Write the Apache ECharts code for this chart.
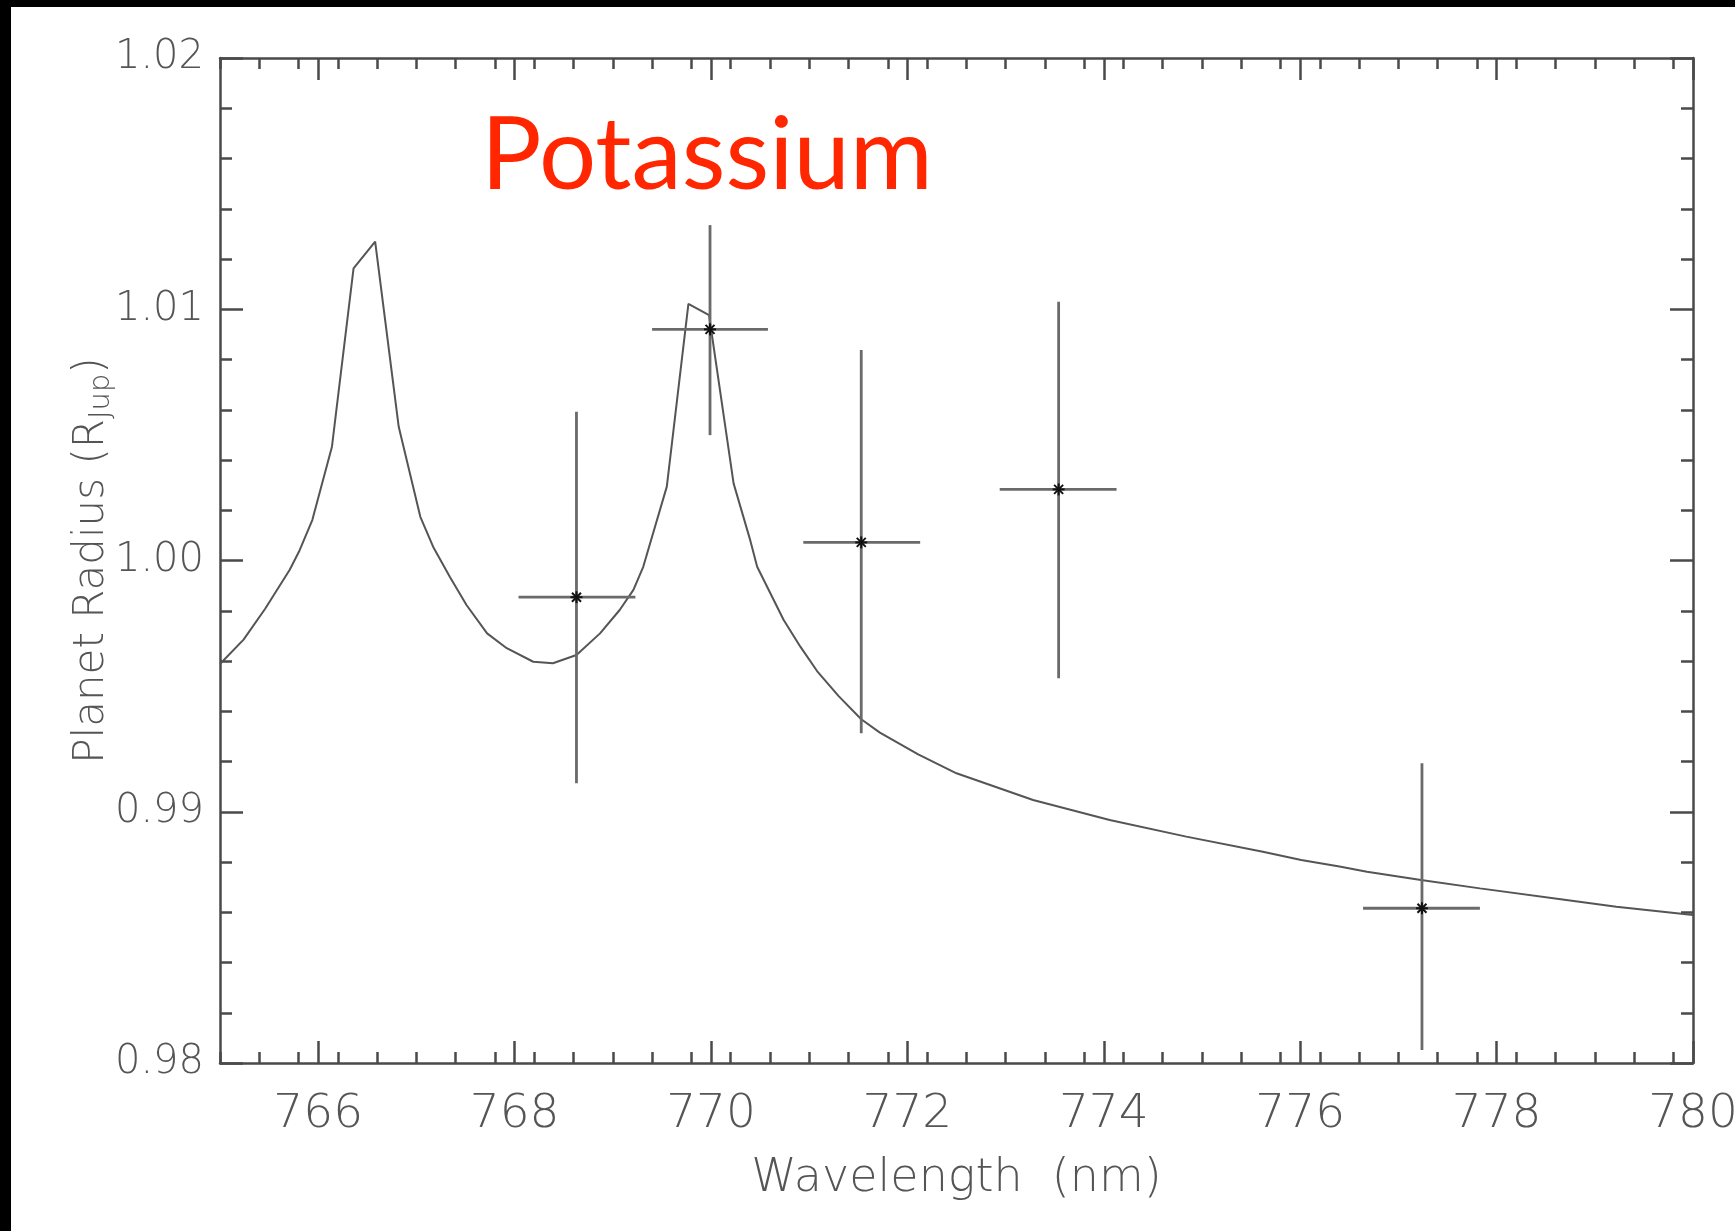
<!DOCTYPE html>
<html>
<head>
<meta charset="utf-8">
<script src="https://cdn.jsdelivr.net/npm/echarts@6/dist/echarts.min.js"></script>
<style>
html,body{margin:0;padding:0;background:#fff;}
#chart{width:1735px;height:1231px;}
</style>
</head>
<body>
<div id="chart"></div>
<script>
// Model transmission spectrum (wavelength nm, planet radius R_Jup)
const modelWl = [765.00, 765.24, 765.46, 765.71, 765.81, 765.94, 766.14, 766.36, 766.58, 766.82, 767.04, 767.17, 767.34, 767.51, 767.72, 767.92, 768.19, 768.39, 768.63, 768.87, 769.07, 769.21, 769.31, 769.55, 769.77, 769.98, 770.23, 770.40, 770.47, 770.74, 770.91, 771.08, 771.30, 771.53, 771.72, 772.11, 772.50, 773.28, 774.06, 774.84, 775.62, 776.01, 776.40, 776.68, 777.23, 777.83, 778.71, 779.22, 780.00];
const modelR  = [0.99588, 0.99685, 0.99808, 0.99963, 1.00040, 1.00161, 1.00453, 1.01163, 1.01269, 1.00532, 1.00174, 1.00055, 0.99935, 0.99823, 0.99710, 0.99651, 0.99597, 0.99591, 0.99624, 0.99710, 0.99803, 0.99883, 0.99975, 1.00294, 1.01021, 1.00977, 1.00307, 1.00080, 0.99975, 0.99763, 0.99657, 0.99560, 0.99460, 0.99368, 0.99315, 0.99228, 0.99153, 0.99047, 0.98967, 0.98901, 0.98841, 0.98808, 0.98782, 0.98761, 0.98728, 0.98695, 0.98649, 0.98622, 0.98589];

// Measured points with error bars
const binCenter = [768.63, 769.99, 771.53, 773.54, 777.24];
const binLow    = [768.04, 769.40, 770.94, 772.94, 776.64];
const binHigh   = [769.23, 770.58, 772.13, 774.13, 777.83];
const radius    = [0.99854, 1.00920, 1.00072, 1.00283, 0.98616];
const radiusLow = [0.99113, 1.00499, 0.99312, 0.99531, 0.98052];
const radiusHigh= [1.00592, 1.01335, 1.00838, 1.01030, 0.99193];

// Tick values
const xMajorTicks = [766, 768, 770, 772, 774, 776, 778, 780];
const xMinorTicks = [];
for (let k = 0; k <= 37; k++) {
  const v = Math.round((765 + k * 0.4) * 10) / 10;
  if (v <= 780 && Math.abs(v / 2 - Math.round(v / 2)) > 1e-6) xMinorTicks.push(v);
}
const yMin = 0.98, yMax = 1.02, yStep = 0.01;

const textFont = 'DejaVu Sans';
const gray = '#555';
const axisLine = { show: true, lineStyle: { color: '#4a4a4a', width: 2.5 } };

const chart = echarts.init(document.getElementById('chart'), null, { renderer: 'canvas' });

const errData = binCenter.map((x, i) => [x, radius[i], binLow[i], binHigh[i], radiusLow[i], radiusHigh[i]]);

function xAxisCfg(pos, ticks, len, withLabel) {
  return {
    type: 'value', position: pos, min: 765, max: 780,
    axisLine: withLabel !== null ? axisLine : { show: false },
    splitLine: { show: false },
    axisTick: { show: true, inside: true, length: len, customValues: ticks, lineStyle: { color: '#4a4a4a', width: 2.5 } },
    axisLabel: withLabel ? {
      show: true, customValues: xMajorTicks, margin: 28,
      fontFamily: textFont, fontWeight: 200, fontSize: 47, color: gray,
      formatter: v => String(v)
    } : { show: false },
    name: withLabel ? 'Wavelength  (nm)' : '',
    nameLocation: 'middle', nameGap: 93,
    nameTextStyle: { fontFamily: textFont, fontWeight: 200, fontSize: 46, color: gray }
  };
}

function yAxisCfg(pos, withLabel) {
  return {
    type: 'value', position: pos, min: yMin, max: yMax, interval: yStep,
    axisLine: axisLine,
    splitLine: { show: false },
    axisTick: { show: true, inside: true, length: 23, lineStyle: { color: '#4a4a4a', width: 2.5 } },
    minorTick: { show: true, splitNumber: 5, length: 12, lineStyle: { color: '#4a4a4a', width: 2.5 } },
    axisLabel: withLabel ? {
      show: true, margin: 16, fontFamily: textFont, fontWeight: 200, fontSize: 40, color: gray,
      formatter: v => v.toFixed(2)
    } : { show: false },
    name: withLabel ? '{a|Planet Radius (R}{s|Jup}{a|)}' : '',
    nameLocation: 'middle', nameGap: 104, nameRotate: 90, nameMoveOverlap: false,
    nameTextStyle: {
      color: gray,
      rich: {
        a: { fontFamily: textFont, fontWeight: 200, fontSize: 42, color: gray },
        s: { fontFamily: textFont, fontWeight: 200, fontSize: 29, color: gray, verticalAlign: 'bottom', padding: [18, 0, 0, 0] }
      }
    }
  };
}

chart.setOption({
  backgroundColor: '#ffffff',
  animation: false,
  grid: { left: 220, top: 58, right: 42, bottom: 168, containLabel: false, outerBoundsMode: 'none' },
  graphic: [
    { type: 'rect', shape: { x: 0, y: 0, width: 1735, height: 7 }, style: { fill: '#000' }, z: 100 },
    { type: 'rect', shape: { x: 0, y: 0, width: 11, height: 1231 }, style: { fill: '#000' }, z: 100 },
    { type: 'text', x: 481, y: 156, z: 100,
      style: { text: 'Potassium', fontFamily: 'Lato', fontSize: 101, fill: '#ff2600', verticalAlign: 'middle', align: 'left' } }
  ],
  xAxis: [
    xAxisCfg('bottom', xMajorTicks, 22, true),
    xAxisCfg('bottom', xMinorTicks, 11, null),
    xAxisCfg('top', xMajorTicks, 22, false),
    xAxisCfg('top', xMinorTicks, 11, null)
  ],
  yAxis: [
    yAxisCfg('left', true),
    yAxisCfg('right', false)
  ],
  series: [
    {
      type: 'line', xAxisIndex: 0, yAxisIndex: 0,
      data: modelWl.map((x, i) => [x, modelR[i]]),
      showSymbol: false, smooth: false,
      lineStyle: { color: '#555', width: 2 },
      z: 2
    },
    {
      type: 'custom', xAxisIndex: 0, yAxisIndex: 0,
      data: errData,
      encode: { x: 0, y: 1 },
      z: 3,
      renderItem: function (params, api) {
        const x = api.value(0), y = api.value(1);
        const c = api.coord([x, y]);
        const l = api.coord([api.value(2), y]);
        const r = api.coord([api.value(3), y]);
        const b = api.coord([x, api.value(4)]);
        const t = api.coord([x, api.value(5)]);
        const st = { stroke: '#6a6a6a', lineWidth: 2.8 };
        const ms = { stroke: '#111', lineWidth: 2 };
        const d = 4.5;
        return {
          type: 'group',
          children: [
            { type: 'line', shape: { x1: l[0], y1: l[1], x2: r[0], y2: r[1] }, style: st },
            { type: 'line', shape: { x1: t[0], y1: t[1], x2: b[0], y2: b[1] }, style: st },
            { type: 'line', shape: { x1: c[0] - d, y1: c[1] - d, x2: c[0] + d, y2: c[1] + d }, style: ms },
            { type: 'line', shape: { x1: c[0] - d, y1: c[1] + d, x2: c[0] + d, y2: c[1] - d }, style: ms },
            { type: 'line', shape: { x1: c[0] - 6, y1: c[1], x2: c[0] + 6, y2: c[1] }, style: ms },
            { type: 'line', shape: { x1: c[0], y1: c[1] - 6, x2: c[0], y2: c[1] + 6 }, style: ms }
          ]
        };
      }
    }
  ]
});
</script>
</body>
</html>
